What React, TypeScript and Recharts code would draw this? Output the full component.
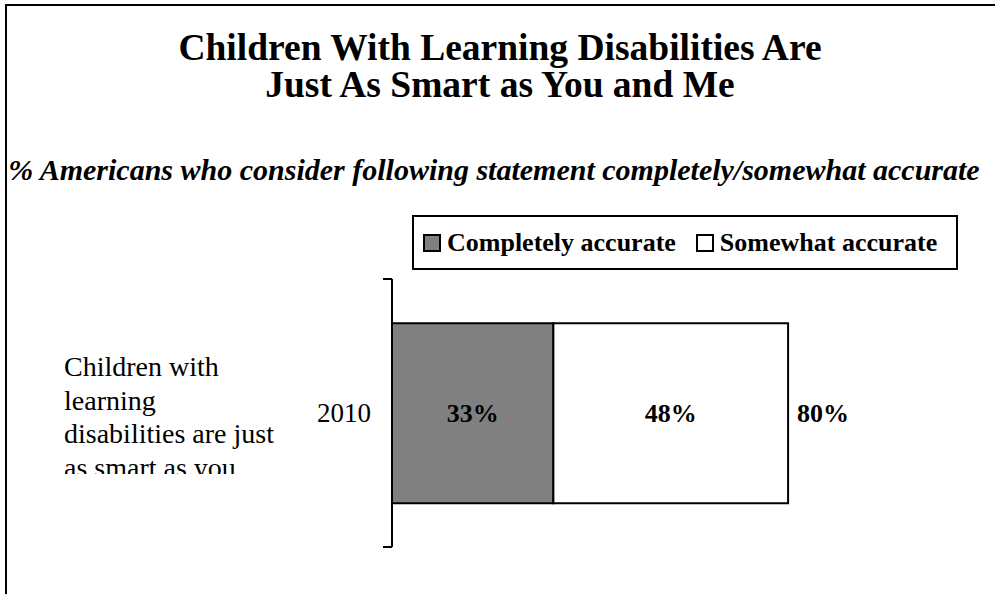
import { BarChart, Bar, XAxis, YAxis, Legend, LabelList, ReferenceArea } from "recharts";

const years = ["2010"];
const completelyAccurate = [33];
const somewhatAccurate = [48];
const totals = [80];
const statementLines = ["Children with", "learning", "disabilities are just", "as smart as you"];

const data = years.map((year, i) => ({
  year,
  completely: completelyAccurate[i],
  somewhat: somewhatAccurate[i],
  total: totals[i],
}));

const serif = '"Liberation Serif", "Times New Roman", serif';
const pct = (v: any) => `${v}%`;

// year label plus the long statement that sits left of it (clipped like the original)
function YearTick(props: any) {
  const { x, y, payload } = props;
  return (
    <g>
      <defs>
        <clipPath id="stmtClip">
          <rect x={0} y={0} width={x - 20} height={y + 61} />
        </clipPath>
      </defs>
      <text x={x} y={y} textAnchor="end" dominantBaseline="central" fontSize={27} fontFamily={serif} fill="#000">
        {payload.value}
      </text>
      <g clipPath="url(#stmtClip)">
        <text fontSize={28} fontFamily={serif} fill="#000">
          {statementLines.map((line, i) => (
            <tspan key={i} x={64} y={y - 37 + i * 33.7}>
              {line}
            </tspan>
          ))}
        </text>
      </g>
    </g>
  );
}

function BandTicks(p: any) {
  return (
    <g>
      <line x1={p.x - 9} x2={p.x} y1={p.y} y2={p.y} stroke="#000" strokeWidth={2} />
      <line x1={p.x - 9} x2={p.x} y1={p.y + p.height} y2={p.y + p.height} stroke="#000" strokeWidth={2} />
    </g>
  );
}

function LegendBox(props: any) {
  const items = props.payload || [];
  return (
    <div
      style={{
        width: "100%",
        height: "100%",
        boxSizing: "border-box",
        border: "2px solid #000",
        background: "#fff",
        display: "flex",
        alignItems: "center",
        padding: "0 0 0 9px",
        fontFamily: serif,
        fontWeight: "bold",
        fontSize: 26,
        color: "#000",
        whiteSpace: "nowrap",
      }}
    >
      {items.map((it: any, i: number) => (
        <div key={i} style={{ display: "flex", alignItems: "center", marginRight: 20, flexShrink: 0 }}>
          <span
            style={{
              display: "inline-block",
              width: 14,
              height: 14,
              border: "2px solid #000",
              background: it.color,
              marginRight: 6,
            }}
          />
          <span>{it.value}</span>
        </div>
      ))}
    </div>
  );
}

export default function App() {
  return (
    <div
      style={{
        position: "absolute",
        left: 0,
        top: 0,
        width: 995,
        height: 594,
        background: "#fff",
        overflow: "hidden",
        fontFamily: serif,
      }}
    >
      <div
        style={{
          position: "absolute",
          left: 5,
          top: 4,
          width: 2000,
          height: 2000,
          borderTop: "2px solid #000",
          borderLeft: "2px solid #000",
        }}
      />
      <div
        style={{
          position: "absolute",
          left: 0,
          top: 29,
          width: 1000,
          textAlign: "center",
          fontWeight: "bold",
          fontSize: 37.5,
          lineHeight: "37px",
        }}
      >
        Children With Learning Disabilities Are
        <br />
        Just As Smart as You and Me
      </div>
      <div
        style={{
          position: "absolute",
          left: 0,
          top: 155,
          width: 988,
          textAlign: "center",
          fontWeight: "bold",
          fontStyle: "italic",
          fontSize: 30,
          lineHeight: "30px",
        }}
      >
        % Americans who consider following statement completely/somewhat accurate
      </div>
      <div style={{ position: "absolute", left: 0, top: 0 }}>
        <BarChart
          width={995}
          height={594}
          data={data}
          layout="vertical"
          barCategoryGap="16.5%"
          margin={{ top: 279, right: 114, bottom: 47, left: 0 }}
        >
          <XAxis type="number" domain={[0, 100]} hide />
          <YAxis
            type="category"
            dataKey="year"
            width={392}
            axisLine={{ stroke: "#000", strokeWidth: 2 }}
            tickLine={false}
            tickSize={0}
            tickMargin={21}
            tick={<YearTick />}
          />
          <Legend
            layout="horizontal"
            verticalAlign="middle"
            align="center"
            wrapperStyle={{ top: 215, left: 412, right: "auto", bottom: "auto", width: 546, height: 55 }}
            content={<LegendBox />}
          />
          <Bar
            dataKey="completely"
            name="Completely accurate"
            stackId="a"
            fill="#808080"
            stroke="#000"
            strokeWidth={2}
            isAnimationActive={false}
          >
            <LabelList
              dataKey="completely"
              position="center"
              formatter={pct}
              fill="#000"
              fontSize={26}
              fontWeight="bold"
              fontFamily={serif}
            />
          </Bar>
          <Bar
            dataKey="somewhat"
            name="Somewhat accurate"
            stackId="a"
            fill="#ffffff"
            stroke="#000"
            strokeWidth={2}
            isAnimationActive={false}
          >
            <LabelList
              dataKey="somewhat"
              position="center"
              formatter={pct}
              fill="#000"
              fontSize={26}
              fontWeight="bold"
              fontFamily={serif}
            />
            <LabelList
              dataKey="total"
              position="right"
              offset={9}
              formatter={pct}
              fill="#000"
              fontSize={26}
              fontWeight="bold"
              fontFamily={serif}
            />
          </Bar>
          <ReferenceArea y1={years[0]} y2={years[0]} ifOverflow="visible" shape={<BandTicks />} />
        </BarChart>
      </div>
    </div>
  );
}
